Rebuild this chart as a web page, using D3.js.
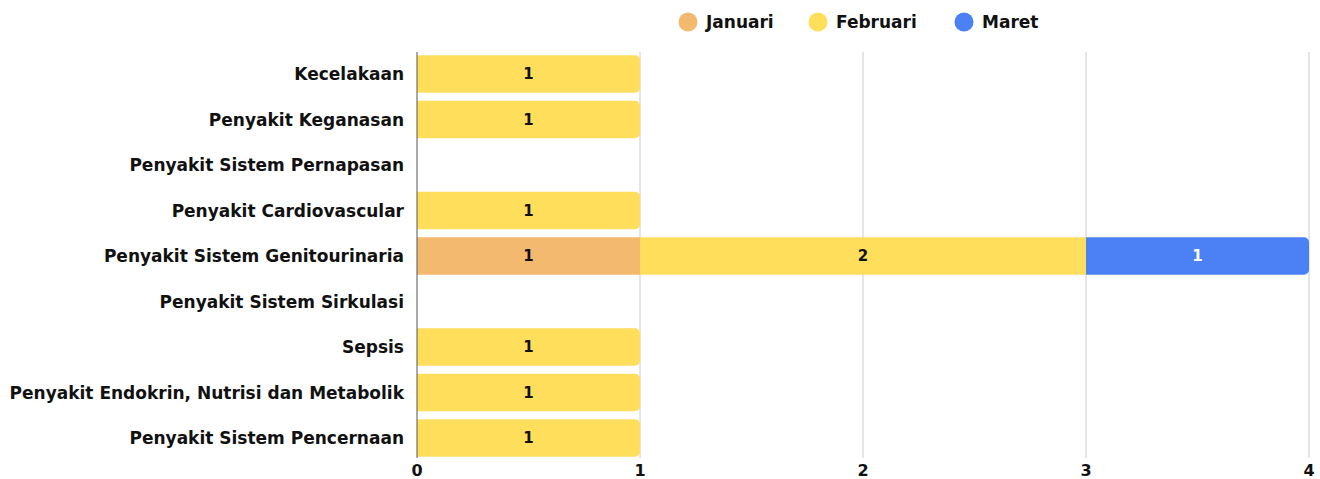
<!DOCTYPE html>
<meta charset="utf-8" />
<body style="margin:0;background:#fff">
  <script src="https://d3js.org/d3.v7.min.js"></script>
  <script>
    // data
    const categories = [
      "Kecelakaan",
      "Penyakit Keganasan",
      "Penyakit Sistem Pernapasan",
      "Penyakit Cardiovascular",
      "Penyakit Sistem Genitourinaria",
      "Penyakit Sistem Sirkulasi",
      "Sepsis",
      "Penyakit Endokrin, Nutrisi dan Metabolik",
      "Penyakit Sistem Pencernaan"
    ];
    const januari = [0, 0, 0, 0, 1, 0, 0, 0, 0];
    const februari = [1, 1, 0, 1, 2, 0, 1, 1, 1];
    const maret = [0, 0, 0, 0, 1, 0, 0, 0, 0];
    const seriesNames = ["Januari", "Februari", "Maret"];
    const seriesColors = ["#F3B96E", "#FFDE5C", "#4B81F4"];
    const xTicks = [0, 1, 2, 3, 4];

    const W = 1320, H = 479;
    const margin = { top: 51.25, right: 11, bottom: 18.25, left: 417 };
    const font = "'DejaVu Sans', sans-serif";

    const svg = d3.select("body").append("svg")
      .attr("width", W).attr("height", H)
      .style("display", "block")
      .style("font-family", font);

    const x = d3.scaleLinear().domain([0, 4]).range([margin.left, W - margin.right]);
    const y = d3.scaleBand().domain(categories)
      .range([margin.top, H - margin.bottom]).paddingInner(0.18).paddingOuter(0.09);

    const table = categories.map((c, i) => ({
      cat: c, Januari: januari[i], Februari: februari[i], Maret: maret[i]
    }));
    const stacked = d3.stack().keys(seriesNames)(table);

    // gridlines
    svg.append("g").selectAll("line").data(xTicks.slice(1)).join("line")
      .attr("x1", d => x(d)).attr("x2", d => x(d))
      .attr("y1", 52).attr("y2", 458)
      .attr("stroke", "#cccccc").attr("stroke-width", 1);

    // last nonzero series for each category (gets rounded right end)
    const lastKey = table.map(d => {
      let k = null;
      seriesNames.forEach(s => { if (d[s] > 0) k = s; });
      return k;
    });

    function segPath(x0, x1, y0, h, round) {
      const r = round ? Math.min(5, (x1 - x0) / 2) : 0;
      return `M${x0},${y0}H${x1 - r}` +
        (r ? `A${r},${r} 0 0 1 ${x1},${y0 + r}` : "") +
        `V${y0 + h - r}` +
        (r ? `A${r},${r} 0 0 1 ${x1 - r},${y0 + h}` : "") +
        `H${x0}Z`;
    }

    stacked.forEach((layer, si) => {
      const g = svg.append("g");
      layer.forEach((seg, i) => {
        if (seg[1] - seg[0] <= 0) return;
        const x0 = x(seg[0]), x1 = x(seg[1]);
        const yy = y(categories[i]);
        g.append("path")
          .attr("d", segPath(x0, x1, yy, y.bandwidth(), lastKey[i] === layer.key))
          .attr("fill", seriesColors[si]);
        g.append("text")
          .attr("x", (x0 + x1) / 2)
          .attr("y", yy + y.bandwidth() / 2)
          .attr("dy", "0.36em")
          .attr("text-anchor", "middle")
          .attr("font-size", 15).attr("font-weight", 700)
          .attr("fill", layer.key === "Maret" ? "#ffffff" : "#111111")
          .text(seg[1] - seg[0]);
      });
    });

    // zero axis line
    svg.append("line")
      .attr("x1", x(0)).attr("x2", x(0))
      .attr("y1", 52).attr("y2", 458)
      .attr("stroke", "#555555").attr("stroke-width", 1);

    // category labels
    svg.append("g").selectAll("text").data(categories).join("text")
      .attr("x", margin.left - 13)
      .attr("y", d => y(d) + y.bandwidth() / 2)
      .attr("dy", "0.36em")
      .attr("text-anchor", "end")
      .attr("font-size", 17).attr("font-weight", 700)
      .attr("fill", "#111111")
      .text(d => d);

    // x tick labels
    svg.append("g").selectAll("text").data(xTicks).join("text")
      .attr("x", d => x(d))
      .attr("y", 470)
      .attr("dy", "0.36em")
      .attr("text-anchor", "middle")
      .attr("font-size", 16).attr("font-weight", 700)
      .attr("fill", "#111111")
      .text(d => d);

    // legend
    const legendX = [688, 818, 964];
    const lg = svg.append("g").selectAll("g").data(seriesNames).join("g")
      .attr("transform", (d, i) => `translate(${legendX[i]},22)`);
    lg.append("circle").attr("r", 9.5).attr("fill", (d, i) => seriesColors[i]);
    lg.append("text")
      .attr("x", 18).attr("dy", "0.36em")
      .attr("font-size", 17).attr("font-weight", 700)
      .attr("fill", "#111111")
      .text(d => d);
  </script>
</body>
